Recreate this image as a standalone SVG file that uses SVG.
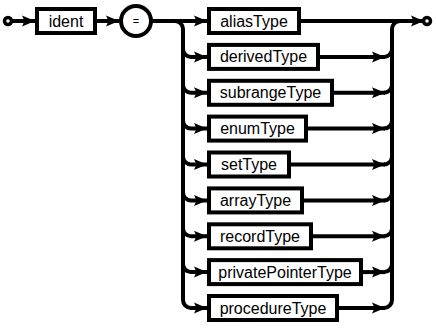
<svg xmlns="http://www.w3.org/2000/svg" width="436" height="328" viewBox="0 0 436 328">
  <style>
    .box { fill: #fff; stroke: #000; stroke-width: 4; }
    .lbl { font-family: "Liberation Sans", Arial, Helvetica, sans-serif; font-size: 16px; fill: #000; text-anchor: middle; }
    .eq { font-family: "Liberation Sans", Arial, Helvetica, sans-serif; font-size: 11px; fill: #000; text-anchor: middle; }
    .wire { fill: none; stroke: #000; stroke-width: 4; }
    .arr { fill: none; stroke: #000; stroke-width: 4; marker-end: url(#head); }
    .term { fill: #fff; stroke: #000; stroke-width: 3.5; }
  </style>
  <defs>
    <marker id="head" markerUnits="userSpaceOnUse" markerWidth="14" markerHeight="12" refX="13" refY="6" orient="auto">
      <path d="M0,0.5 L13,6 L0,11.5 L2.5,6 z" fill="#000"/>
    </marker>
  </defs>

  <g id="connectors">
    <!-- entry -->
    <circle class="term" cx="8" cy="21" r="3.5"/>
    <line class="arr" x1="11" y1="21" x2="35" y2="21"/>
    <line class="arr" x1="97" y1="21" x2="119" y2="21"/>
    <line class="arr" x1="152" y1="21" x2="207" y2="21"/>
    <!-- left rail with branches -->
    <path class="wire" d="M175,21 A8,8 0 0 1 183,29 L183,300 A8,8 0 0 0 191,308"/>
    <path class="arr" d="M183,48.9 A8,8 0 0 0 191,56.9 L207,56.9"/>
    <path class="arr" d="M183,84.8 A8,8 0 0 0 191,92.8 L207,92.8"/>
    <path class="arr" d="M183,120.6 A8,8 0 0 0 191,128.6 L207,128.6"/>
    <path class="arr" d="M183,156.5 A8,8 0 0 0 191,164.5 L207,164.5"/>
    <path class="arr" d="M183,192.4 A8,8 0 0 0 191,200.4 L207,200.4"/>
    <path class="arr" d="M183,228.3 A8,8 0 0 0 191,236.3 L207,236.3"/>
    <path class="arr" d="M183,264.1 A8,8 0 0 0 191,272.1 L207,272.1"/>
    <line class="arr" x1="190" y1="308" x2="207" y2="308"/>
    <!-- right side -->
    <line class="arr" x1="301" y1="21" x2="424" y2="21"/>
    <path class="wire" d="M384,308 A8,8 0 0 0 392,300 L392,29 A8,8 0 0 1 400,21"/>
    <line class="arr" x1="320" y1="56.9" x2="385" y2="56.9"/>
    <path class="wire" d="M384,56.9 A8,8 0 0 0 392,48.9"/>
    <line class="arr" x1="334" y1="92.8" x2="385" y2="92.8"/>
    <path class="wire" d="M384,92.8 A8,8 0 0 0 392,84.8"/>
    <line class="arr" x1="308" y1="128.6" x2="385" y2="128.6"/>
    <path class="wire" d="M384,128.6 A8,8 0 0 0 392,120.6"/>
    <line class="arr" x1="291" y1="164.5" x2="385" y2="164.5"/>
    <path class="wire" d="M384,164.5 A8,8 0 0 0 392,156.5"/>
    <line class="arr" x1="304" y1="200.4" x2="385" y2="200.4"/>
    <path class="wire" d="M384,200.4 A8,8 0 0 0 392,192.4"/>
    <line class="arr" x1="313" y1="236.3" x2="385" y2="236.3"/>
    <path class="wire" d="M384,236.3 A8,8 0 0 0 392,228.3"/>
    <line class="arr" x1="363" y1="272.1" x2="385" y2="272.1"/>
    <path class="wire" d="M384,272.1 A8,8 0 0 0 392,264.1"/>
    <line class="arr" x1="339" y1="308" x2="385" y2="308"/>
    <!-- exit -->
    <circle class="term" cx="427" cy="21" r="3.5"/>
  </g>

  <g id="ident"><rect class="box" x="37" y="9" width="58" height="24"/><text class="lbl" x="66" y="26.5">ident</text></g>
  <g id="equals"><circle class="box" cx="136" cy="21" r="15"/><text class="eq" x="136" y="25">=</text></g>
  <g id="aliasType"><rect class="box" x="209" y="9" width="90" height="24"/><text class="lbl" x="254" y="26.5">aliasType</text></g>
  <g id="derivedType"><rect class="box" x="209" y="44.9" width="109" height="24"/><text class="lbl" x="263.5" y="62.4">derivedType</text></g>
  <g id="subrangeType"><rect class="box" x="209" y="80.8" width="123" height="24"/><text class="lbl" x="270.5" y="98.3">subrangeType</text></g>
  <g id="enumType"><rect class="box" x="209" y="116.6" width="97" height="24"/><text class="lbl" x="257.5" y="134.1">enumType</text></g>
  <g id="setType"><rect class="box" x="209" y="152.5" width="80" height="24"/><text class="lbl" x="249" y="170">setType</text></g>
  <g id="arrayType"><rect class="box" x="209" y="188.4" width="93" height="24"/><text class="lbl" x="255.5" y="205.9">arrayType</text></g>
  <g id="recordType"><rect class="box" x="209" y="224.3" width="102" height="24"/><text class="lbl" x="260" y="241.8">recordType</text></g>
  <g id="privatePointerType"><rect class="box" x="209" y="260.1" width="152" height="24"/><text class="lbl" x="285" y="277.6">privatePointerType</text></g>
  <g id="procedureType"><rect class="box" x="209" y="296" width="128" height="24"/><text class="lbl" x="273" y="313.5">procedureType</text></g>
</svg>
